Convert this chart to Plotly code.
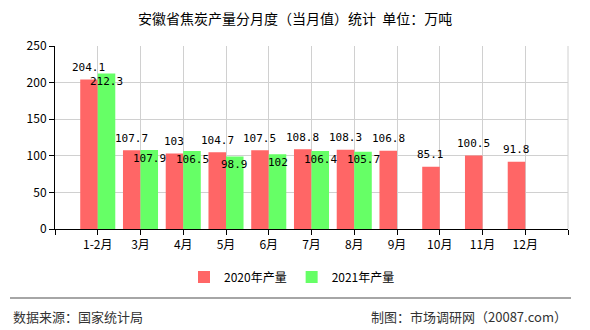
import plotly.graph_objects as go

categories = ["1-2月", "3月", "4月", "5月", "6月", "7月", "8月", "9月", "10月", "11月", "12月"]
prod_2020 = [204.1, 107.7, 103, 104.7, 107.5, 108.8, 108.3, 106.8, 85.1, 100.5, 91.8]
prod_2021 = [212.3, 107.9, 106.5, 98.9, 102, 106.4, 105.7, None, None, None, None]
y_ticks = [0, 50, 100, 150, 200, 250]

CJK = "Noto Sans CJK SC"
MONO = "DejaVu Sans Mono"
RED = "#FF6666"
GREEN = "#66FF66"

W, H = 590, 330
L, R, T, B = 55, 22, 46, 101
pw = W - L - R
ph = H - T - B

def px_x(p):
    return (p - L) / pw

def px_y(p):
    return (H - B - p) / ph

xs = list(range(len(categories)))
bargap = 0.18
half = (1 - bargap) / 4

fig = go.Figure()
fig.add_trace(go.Bar(x=xs, y=prod_2020, name="2020年产量", marker_color=RED,
                     marker_line_width=0, hoverinfo="skip"))
fig.add_trace(go.Bar(x=xs, y=prod_2021, name="2021年产量", marker_color=GREEN,
                     marker_line_width=0, hoverinfo="skip"))

annotations = []
for i, v in enumerate(prod_2020):
    if v is None:
        continue
    annotations.append(dict(x=i - half, y=v, xref="x", yref="y", text=str(v),
                            showarrow=False, yshift=12, yanchor="middle",
                            font=dict(family=MONO, size=11, color="#000")))
for i, v in enumerate(prod_2021):
    if v is None:
        continue
    annotations.append(dict(x=i + half, y=v, xref="x", yref="y", text=str(v),
                            showarrow=False, yshift=-8, yanchor="middle",
                            font=dict(family=MONO, size=11, color="#000")))

# title
annotations.append(dict(x=0.5, y=1, xref="paper", yref="paper", text="安徽省焦炭产量分月度（当月值）统计 单位：万吨",
                        showarrow=False, xanchor="center", yanchor="middle",
                        x_=None) if False else dict(
    x=px_x(W / 2), y=px_y(18), xref="paper", yref="paper",
    text="安徽省焦炭产量分月度（当月值）统计  单位：万吨", showarrow=False,
    xanchor="center", yanchor="middle", font=dict(family=CJK, size=14, color="#000")))
# footer
annotations.append(dict(x=px_x(11), y=px_y(316), xref="paper", yref="paper",
                        text="数据来源：国家统计局", showarrow=False, xanchor="left",
                        yanchor="middle", font=dict(family=CJK, size=13, color="#333")))
annotations.append(dict(x=px_x(569), y=px_y(316), xref="paper", yref="paper",
                        text="制图：市场调研网（20087.com）", showarrow=False, xanchor="right",
                        yanchor="middle", font=dict(family=CJK, size=13, color="#333")))

shapes = [
    dict(type="line", xref="paper", yref="paper", x0=px_x(10), x1=px_x(571),
         y0=px_y(298), y1=px_y(298), line=dict(color="#888", width=1.5)),
    dict(type="line", xref="paper", yref="y", x0=1, x1=1, y0=0, y1=250,
         line=dict(color="#d0d0d0", width=1)),
]

tickvals = list(range(-1, len(categories) + 1))
ticktext = [""] + categories + [""]

fig.update_layout(
    width=W, height=H,
    margin=dict(l=L, r=R, t=T, b=B),
    paper_bgcolor="white", plot_bgcolor="white",
    barmode="group", bargap=bargap, bargroupgap=0,
    showlegend=True,
    legend=dict(orientation="h", x=px_x(292), y=px_y(277), xanchor="center", yanchor="middle",
                font=dict(family=CJK, size=12, color="#000"), itemwidth=30,
                itemsizing="constant", traceorder="normal"),
    annotations=annotations,
    shapes=shapes,
    xaxis=dict(range=[-1, len(categories)], tickvals=tickvals, ticktext=ticktext,
               showgrid=True, gridcolor="#d0d0d0", gridwidth=1,
               showline=True, linecolor="#000", linewidth=1,
               ticks="outside", ticklen=5, tickcolor="#000",
               tickfont=dict(family=CJK, size=12, color="#000"), zeroline=False),
    yaxis=dict(range=[0, 250], tickvals=y_ticks, showgrid=True, gridcolor="#d0d0d0",
               gridwidth=1, showline=True, linecolor="#000", linewidth=1,
               ticks="outside", ticklen=5, tickcolor="#000",
               tickfont=dict(family=CJK, size=12, color="#000"), zeroline=False),
)

fig.write_html("out.html")
